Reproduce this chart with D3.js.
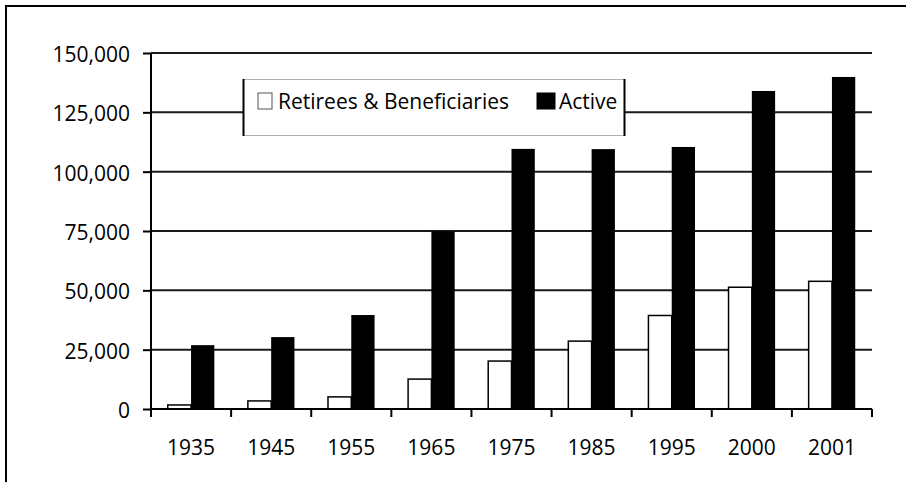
<!DOCTYPE html>
<html>
<head>
<meta charset="UTF-8">
<title>Retirees and Active</title>
<script src="https://cdnjs.cloudflare.com/ajax/libs/d3/7.8.5/d3.min.js"></script>
<style>
body { margin: 0; background: #fff; }
text { font-family: "Open Sans", sans-serif; font-size: 21px; fill: #000; }
</style>
</head>
<body>
<div id="chart"></div>
<script>
/*global d3*/
var years = ["1935", "1945", "1955", "1965", "1975", "1985", "1995", "2000", "2001"];
var series = ["Retirees & Beneficiaries", "Active"];
var retirees = [1700, 3400, 5100, 12600, 20200, 28600, 39400, 51300, 53800];
var active = [26900, 30300, 39600, 74900, 109600, 109500, 110400, 134000, 139900];
var yTicks = [0, 25000, 50000, 75000, 100000, 125000, 150000];

var width = 907, height = 482;
var plotL = 151, plotR = 872, plotT = 53, plotB = 409;

var svg = d3.select("#chart").append("svg")
  .attr("width", width)
  .attr("height", height);

// outer frame (only top and left edges are visible)
svg.append("path")
  .attr("d", "M6,482 V6 H906")
  .attr("fill", "none")
  .attr("stroke", "#000")
  .attr("stroke-width", 2);

var x0 = d3.scaleBand().domain(years).range([plotL, plotR]);
var x1 = d3.scaleBand().domain(series).range([0, x0.bandwidth()]).paddingOuter(0.72);
var y = d3.scaleLinear().domain([0, 150000]).range([plotB, plotT]);

// gridlines
svg.append("g").selectAll("line")
  .data(yTicks.slice(1))
  .enter().append("line")
  .attr("x1", plotL).attr("x2", plotR)
  .attr("y1", function(d) { return y(d); })
  .attr("y2", function(d) { return y(d); })
  .attr("stroke", "#1a1a1a")
  .attr("stroke-width", 2);

// y axis
var yAxis = svg.append("g")
  .attr("transform", "translate(" + plotL + ",0)")
  .call(d3.axisLeft(y).tickValues(yTicks).tickSize(8).tickPadding(13)
    .tickFormat(d3.format(",")));
yAxis.select(".domain").remove();
yAxis.selectAll(".tick line").attr("stroke", "#000").attr("stroke-width", 2);
yAxis.selectAll("text")
  .attr("font-family", null).attr("font-size", null)
  .attr("dy", "0.4em");

svg.append("line")
  .attr("x1", plotL).attr("x2", plotL)
  .attr("y1", plotT).attr("y2", plotB + 8)
  .attr("stroke", "#000").attr("stroke-width", 2);

// bars
var rows = years.map(function(yr, i) {
  return { year: yr, values: [retirees[i], active[i]] };
});

var groups = svg.append("g").selectAll("g")
  .data(rows)
  .enter().append("g")
  .attr("transform", function(d) { return "translate(" + x0(d.year) + ",0)"; });

groups.selectAll("rect")
  .data(function(d) { return d.values.map(function(v, j) { return { s: series[j], v: v }; }); })
  .enter().append("rect")
  .attr("x", function(d) { return x1(d.s); })
  .attr("width", x1.bandwidth())
  .attr("y", function(d) { return y(d.v); })
  .attr("height", function(d) { return plotB - y(d.v); })
  .attr("fill", function(d) { return d.s === "Active" ? "#000" : "#fff"; })
  .attr("stroke", "#000")
  .attr("stroke-width", function(d) { return d.s === "Active" ? 0 : 1.5; });

// x axis
var bounds = years.map(function(d) { return x0(d); }).concat([plotR]);
svg.append("line")
  .attr("x1", plotL).attr("x2", plotR)
  .attr("y1", plotB).attr("y2", plotB)
  .attr("stroke", "#000").attr("stroke-width", 2);
svg.append("g").selectAll("line")
  .data(bounds)
  .enter().append("line")
  .attr("x1", function(d) { return d; }).attr("x2", function(d) { return d; })
  .attr("y1", plotB).attr("y2", plotB + 8)
  .attr("stroke", "#000").attr("stroke-width", 2);
svg.append("g").selectAll("text")
  .data(years)
  .enter().append("text")
  .attr("x", function(d) { return x0(d) + x0.bandwidth() / 2; })
  .attr("y", 455)
  .attr("text-anchor", "middle")
  .text(function(d) { return d; });

// legend
var lg = svg.append("g");
lg.append("rect")
  .attr("x", 243.5).attr("y", 79.5)
  .attr("width", 381).attr("height", 56)
  .attr("fill", "#fff")
  .attr("stroke", "#b0b0b0").attr("stroke-width", 1);
lg.selectAll("line.side")
  .data([243.5, 624.5])
  .enter().append("line")
  .attr("class", "side")
  .attr("x1", function(d) { return d; }).attr("x2", function(d) { return d; })
  .attr("y1", 79).attr("y2", 136)
  .attr("stroke", "#000").attr("stroke-width", 2);

var legendItems = [
  { name: series[0], sx: 258, sw: 14, tx: 278, fill: "#fff" },
  { name: series[1], sx: 537, sw: 18, tx: 559, fill: "#000" }
];
legendItems.forEach(function(it) {
  lg.append("rect")
    .attr("x", it.sx).attr("y", 93)
    .attr("width", it.sw).attr("height", 16)
    .attr("fill", it.fill)
    .attr("stroke", it.fill === "#fff" ? "#555" : "#000")
    .attr("stroke-width", 1);
  lg.append("text")
    .attr("x", it.tx).attr("y", 109)
    .text(it.name);
});
</script>
</body>
</html>
